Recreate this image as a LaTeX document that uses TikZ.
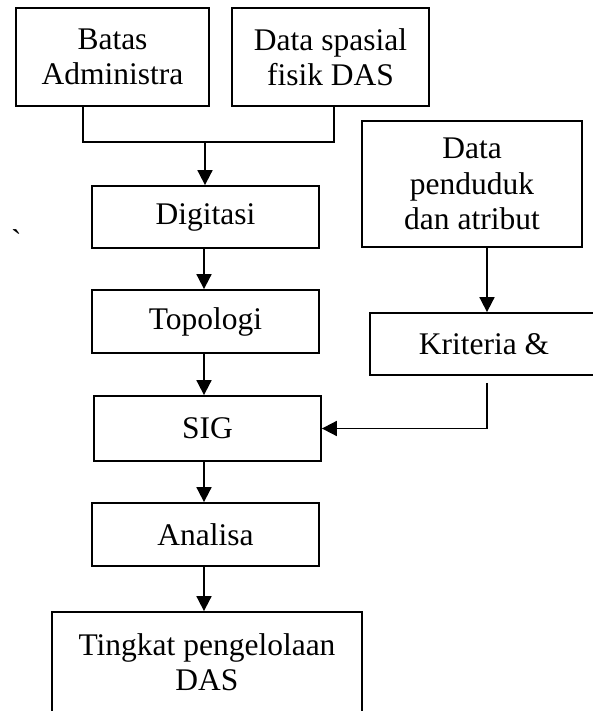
\documentclass[tikz,border=0pt]{standalone}
\usepackage{fontspec}
\setmainfont{Liberation Serif}
\usetikzlibrary{arrows.meta}
\begin{document}
\begin{tikzpicture}[x=1pt,y=-1pt,
  box/.style={draw, line width=1.8pt, inner sep=0pt, align=center, font=\fontsize{31.5}{35.5}\selectfont},
  arr/.style={line width=1.8pt, -{Triangle[length=15pt,width=15pt]}},
  ln/.style={line width=1.8pt}]
\clip (0,0) rectangle (593,711);
\node[box, minimum width=193pt, minimum height=98pt] (batas) at (112.5,57) {Batas\\Administra};
\node[box, minimum width=197pt, minimum height=98pt] (spasial) at (330.5,57) {Data spasial\\fisik DAS};
\node[box, minimum width=227pt, minimum height=62pt] (digitasi) at (205.5,217) {Digitasi};
\node[box, minimum width=220pt, minimum height=126pt] (penduduk) at (472,184) {Data\\penduduk\\dan atribut};
\node[box, minimum width=227pt, minimum height=63pt] (topologi) at (205.5,321.5) {Topologi};
\node[box, minimum width=228pt, minimum height=62pt] (kriteria) at (484,344) {Kriteria \&};
\node[box, minimum width=227pt, minimum height=65pt] (sig) at (207.5,428.5) {SIG};
\node[box, minimum width=227pt, minimum height=63pt] (analisa) at (205.5,534.5) {Analisa};
\node[box, minimum width=310pt, minimum height=100pt] (tingkat) at (207,662) {Tingkat pengelolaan\\DAS};
\node[anchor=base west, inner sep=0pt, font=\fontsize{31.5}{35.5}\selectfont] (tick) at (11,251) {\textasciigrave};
% bracket joining the two top boxes
\coordinate (j) at (205,142);
\coordinate (sa) at ([xshift=-1.5pt]analisa.north);
\draw[ln] ([xshift=-29.5pt]batas.south) |- (j) -| ([xshift=3.5pt]spasial.south);
\draw[arr] (j) -- (j |- digitasi.north);
\draw[arr] ([xshift=-1.5pt]digitasi.south) -- ([xshift=-1.5pt]topologi.north);
\draw[arr] ([xshift=-1.5pt]topologi.south) -- ([xshift=-1.5pt]topologi.south |- sig.north);
\draw[arr] (sig.south -| sa) -- (sa);
\draw[arr] ([xshift=-1.5pt]analisa.south) -- ([xshift=-1.5pt]analisa.south |- tingkat.north);
\draw[arr] ([xshift=15pt]penduduk.south) -- ([xshift=15pt]penduduk.south |- kriteria.north);
\draw[arr, shorten <=7pt] ([xshift=3pt]kriteria.south) |- (sig.east);
\end{tikzpicture}
\end{document}
